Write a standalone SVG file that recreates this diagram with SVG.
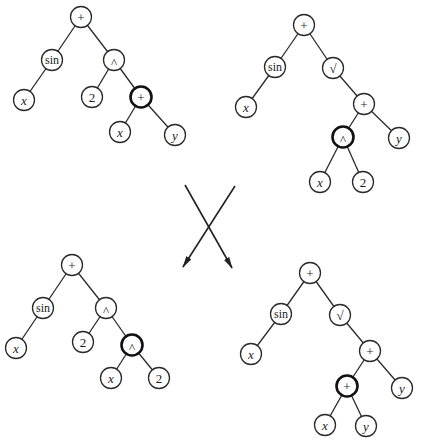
<svg xmlns="http://www.w3.org/2000/svg" width="425" height="444" viewBox="0 0 425 444">
<defs>
<style>
.e{stroke:#2a2a2a;stroke-width:1.3;fill:none}
.n circle{fill:#fff;stroke:#2a2a2a;stroke-width:1.3}
.b circle{stroke:#111;stroke-width:2.6}
.n text{font-family:"Liberation Serif",serif;font-size:13px;fill:#1a1a1a;text-anchor:middle;dominant-baseline:central}
.n text.v{font-style:italic}
.n text.s{font-size:12px}
.a{stroke:#222;stroke-width:1.6;fill:none}
</style>
<marker id="ah" viewBox="0 0 12 6" refX="11" refY="3" markerWidth="12" markerHeight="6" markerUnits="userSpaceOnUse" orient="auto">
<path d="M0,0 L12,3 L0,6 Z" fill="#222"/>
</marker>
</defs>
<rect width="425" height="444" fill="#fff"/>
<g id="connectors">
<line class="e" x1="81" y1="17" x2="52" y2="60"/>
<line class="e" x1="81" y1="17" x2="114" y2="60"/>
<line class="e" x1="52" y1="60" x2="24" y2="100"/>
<line class="e" x1="114" y1="60" x2="92" y2="97"/>
<line class="e" x1="114" y1="60" x2="141" y2="97"/>
<line class="e" x1="141" y1="97" x2="120" y2="132"/>
<line class="e" x1="141" y1="97" x2="175" y2="135"/>
<line class="e" x1="304" y1="25" x2="275" y2="67"/>
<line class="e" x1="304" y1="25" x2="333" y2="68"/>
<line class="e" x1="275" y1="67" x2="246" y2="107"/>
<line class="e" x1="333" y1="68" x2="364" y2="104"/>
<line class="e" x1="364" y1="104" x2="343" y2="137"/>
<line class="e" x1="364" y1="104" x2="399" y2="138"/>
<line class="e" x1="343" y1="137" x2="320" y2="182"/>
<line class="e" x1="343" y1="137" x2="363" y2="182"/>
<line class="e" x1="72" y1="265" x2="43" y2="308"/>
<line class="e" x1="72" y1="265" x2="106" y2="308"/>
<line class="e" x1="43" y1="308" x2="16" y2="348"/>
<line class="e" x1="106" y1="308" x2="83" y2="342"/>
<line class="e" x1="106" y1="308" x2="132" y2="345"/>
<line class="e" x1="132" y1="345" x2="111" y2="378"/>
<line class="e" x1="132" y1="345" x2="159" y2="378"/>
<line class="e" x1="310" y1="273" x2="281" y2="314"/>
<line class="e" x1="310" y1="273" x2="340" y2="315"/>
<line class="e" x1="281" y1="314" x2="251" y2="354"/>
<line class="e" x1="340" y1="315" x2="370" y2="351"/>
<line class="e" x1="370" y1="351" x2="347" y2="386"/>
<line class="e" x1="370" y1="351" x2="402" y2="388"/>
<line class="e" x1="347" y1="386" x2="325" y2="425"/>
<line class="e" x1="347" y1="386" x2="366" y2="426"/>
<line class="a" x1="185" y1="185" x2="232" y2="268" marker-end="url(#ah)"/>
<line class="a" x1="235" y1="186" x2="183" y2="267" marker-end="url(#ah)"/>
</g>
<g id="t1-root" class="n"><circle cx="81" cy="17" r="10.5"/><text x="81" y="17">+</text></g>
<g id="t1-sin" class="n"><circle cx="52" cy="60" r="10.5"/><text class="s" x="52" y="60">sin</text></g>
<g id="t1-pow" class="n"><circle cx="114" cy="60" r="10.5"/><text x="114" y="62">^</text></g>
<g id="t1-x1" class="n"><circle cx="24" cy="100" r="10.5"/><text class="v" x="24" y="100">x</text></g>
<g id="t1-2" class="n"><circle cx="92" cy="97" r="10.5"/><text x="92" y="97">2</text></g>
<g id="t1-plus" class="n b"><circle cx="141" cy="97" r="10.5"/><text x="141" y="97">+</text></g>
<g id="t1-x2" class="n"><circle cx="120" cy="132" r="10.5"/><text class="v" x="120" y="132">x</text></g>
<g id="t1-y" class="n"><circle cx="175" cy="135" r="10.5"/><text class="v" x="175" y="135">y</text></g>
<g id="t2-root" class="n"><circle cx="304" cy="25" r="10.5"/><text x="304" y="25">+</text></g>
<g id="t2-sin" class="n"><circle cx="275" cy="67" r="10.5"/><text class="s" x="275" y="67">sin</text></g>
<g id="t2-sqrt" class="n"><circle cx="333" cy="68" r="10.5"/><text x="333" y="68">√</text></g>
<g id="t2-x1" class="n"><circle cx="246" cy="107" r="10.5"/><text class="v" x="246" y="107">x</text></g>
<g id="t2-plus" class="n"><circle cx="364" cy="104" r="10.5"/><text x="364" y="104">+</text></g>
<g id="t2-pow" class="n b"><circle cx="343" cy="137" r="10.5"/><text x="343" y="139">^</text></g>
<g id="t2-y" class="n"><circle cx="399" cy="138" r="10.5"/><text class="v" x="399" y="138">y</text></g>
<g id="t2-x2" class="n"><circle cx="320" cy="182" r="10.5"/><text class="v" x="320" y="182">x</text></g>
<g id="t2-2" class="n"><circle cx="363" cy="182" r="10.5"/><text x="363" y="182">2</text></g>
<g id="t3-root" class="n"><circle cx="72" cy="265" r="10.5"/><text x="72" y="265">+</text></g>
<g id="t3-sin" class="n"><circle cx="43" cy="308" r="10.5"/><text class="s" x="43" y="308">sin</text></g>
<g id="t3-pow" class="n"><circle cx="106" cy="308" r="10.5"/><text x="106" y="310">^</text></g>
<g id="t3-x1" class="n"><circle cx="16" cy="348" r="10.5"/><text class="v" x="16" y="348">x</text></g>
<g id="t3-2a" class="n"><circle cx="83" cy="342" r="10.5"/><text x="83" y="342">2</text></g>
<g id="t3-pow2" class="n b"><circle cx="132" cy="345" r="10.5"/><text x="132" y="347">^</text></g>
<g id="t3-x2" class="n"><circle cx="111" cy="378" r="10.5"/><text class="v" x="111" y="378">x</text></g>
<g id="t3-2b" class="n"><circle cx="159" cy="378" r="10.5"/><text x="159" y="378">2</text></g>
<g id="t4-root" class="n"><circle cx="310" cy="273" r="10.5"/><text x="310" y="273">+</text></g>
<g id="t4-sin" class="n"><circle cx="281" cy="314" r="10.5"/><text class="s" x="281" y="314">sin</text></g>
<g id="t4-sqrt" class="n"><circle cx="340" cy="315" r="10.5"/><text x="340" y="315">√</text></g>
<g id="t4-x1" class="n"><circle cx="251" cy="354" r="10.5"/><text class="v" x="251" y="354">x</text></g>
<g id="t4-plus" class="n"><circle cx="370" cy="351" r="10.5"/><text x="370" y="351">+</text></g>
<g id="t4-plus2" class="n b"><circle cx="347" cy="386" r="10.5"/><text x="347" y="386">+</text></g>
<g id="t4-y1" class="n"><circle cx="402" cy="388" r="10.5"/><text class="v" x="402" y="388">y</text></g>
<g id="t4-x2" class="n"><circle cx="325" cy="425" r="10.5"/><text class="v" x="325" y="425">x</text></g>
<g id="t4-y2" class="n"><circle cx="366" cy="426" r="10.5"/><text class="v" x="366" y="426">y</text></g>
</svg>
